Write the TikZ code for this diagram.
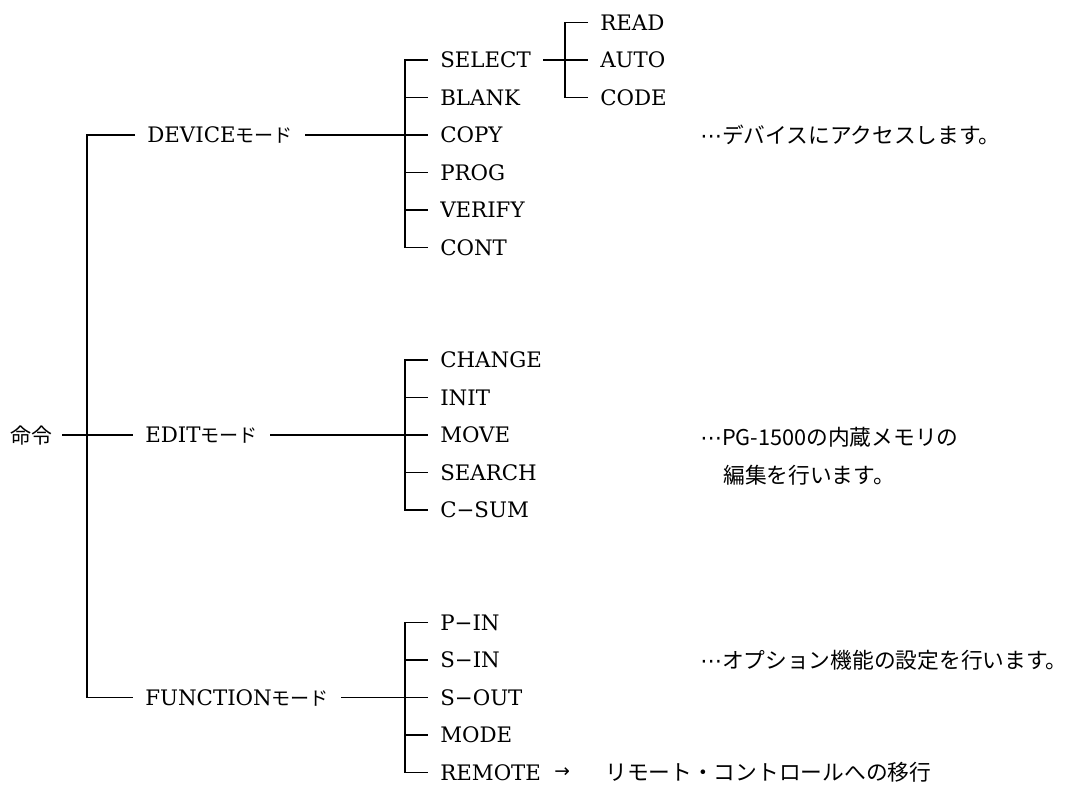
\documentclass[tikz,border=0pt]{standalone}
\usepackage{fontspec}
\newfontfamily\latf{DejaVu Serif}
\newfontfamily\jpf{Noto Sans CJK JP}
\newfontfamily\symf{DejaVu Sans}
\newcommand\lat{\latf\fontsize{16pt}{20pt}\selectfont}
\newcommand\jp{\jpf\fontsize{16.3pt}{20pt}\selectfont}
\newcommand\mo{{\jpf\fontsize{14.3pt}{18pt}\selectfont モード}}
\newcommand\middots{{\symf ⋯}}
\begin{document}
\begin{tikzpicture}[x=0.75pt,y=-0.75pt,
  lbl/.style={anchor=west, inner xsep=9pt, inner ysep=0pt, text height=11.9pt, text depth=0pt, font=\lat},
  jtxt/.style={anchor=west, inner sep=0pt, text height=12.4pt, text depth=0pt, font=\jp},
  conn/.style={line width=0.9pt}]
\useasboundingbox (0,0) rectangle (1076,789);
% root and modes
\node[jtxt, inner xsep=7.5pt, font={\jpf\fontsize{15.7pt}{18pt}\selectfont}] (root) at (0,435) {命令};
\node[lbl] (dev) at (135,135) {DEVICE\mo};
\node[lbl] (edit) at (133,435) {EDIT\mo};
\node[lbl] (fun) at (133,697.5) {FUNCTION\mo};
% device children
\node[lbl] (sel) at (428,60) {SELECT};
\node[lbl] (blank) at (428,97.5) {BLANK};
\node[lbl] (copy) at (428,135) {COPY};
\node[lbl] (prog) at (428,172.5) {PROG};
\node[lbl] (verify) at (428,210) {VERIFY};
\node[lbl] (cont) at (428,247.5) {CONT};
% select children
\node[lbl] (read) at (588,22.5) {READ};
\node[lbl] (auto) at (588,60) {AUTO};
\node[lbl] (code) at (588,97.5) {CODE};
% edit children
\node[lbl] (change) at (428,360) {CHANGE};
\node[lbl] (init) at (428,397.5) {INIT};
\node[lbl] (move) at (428,435) {MOVE};
\node[lbl] (search) at (428,472.5) {SEARCH};
\node[lbl] (csum) at (428,510) {C−SUM};
% function children
\node[lbl] (pin) at (428,622.5) {P−IN};
\node[lbl] (sin) at (428,660) {S−IN};
\node[lbl] (sout) at (428,697.5) {S−OUT};
\node[lbl] (mode) at (428,735) {MODE};
\node[lbl] (remote) at (428,772.5) {REMOTE};
\node[anchor=west, inner sep=0pt, font={\symf\fontsize{14pt}{16pt}\selectfont}] (arr) at (554,772.5) {→};
\node[jtxt] (rnote) at (605,772.5) {リモート・コントロールへの移行};
% descriptions
\node[jtxt] (ddesc) at (700,135) {\middots デバイスにアクセスします。};
\node[jtxt] (edesc1) at (700,437) {\middots PG-1500の内蔵メモリの};
\node[jtxt] (edesc2) at (723,475) {編集を行います。};
\node[jtxt] (fdesc) at (700,660) {\middots オプション機能の設定を行います。};
% trunk
\coordinate (tx) at (87,0);
\coordinate (dx) at (405,0);
\coordinate (sx) at (565,0);
\draw[conn] (dev.west) -- (dev.west -| tx) -- (fun.west -| tx) -- (fun.west);
\draw[conn] (root.east) -- (edit.west);
% device group
\draw[conn] (sel.west) -- (sel.west -| dx) -- (cont.west -| dx) -- (cont.west);
\foreach \n in {blank,prog,verify} \draw[conn] (\n.west -| dx) -- (\n.west);
\draw[conn] (dev.east) -- (copy.west);
% select group
\draw[conn] (read.west) -- (read.west -| sx) -- (code.west -| sx) -- (code.west);
\draw[conn] (sel.east) -- (auto.west);
% edit group
\draw[conn] (change.west) -- (change.west -| dx) -- (csum.west -| dx) -- (csum.west);
\foreach \n in {init,search} \draw[conn] (\n.west -| dx) -- (\n.west);
\draw[conn] (edit.east) -- (move.west);
% function group
\draw[conn] (pin.west) -- (pin.west -| dx) -- (remote.west -| dx) -- (remote.west);
\foreach \n in {sin,mode} \draw[conn] (\n.west -| dx) -- (\n.west);
\draw[conn] (fun.east) -- (sout.west);
\end{tikzpicture}
\end{document}
